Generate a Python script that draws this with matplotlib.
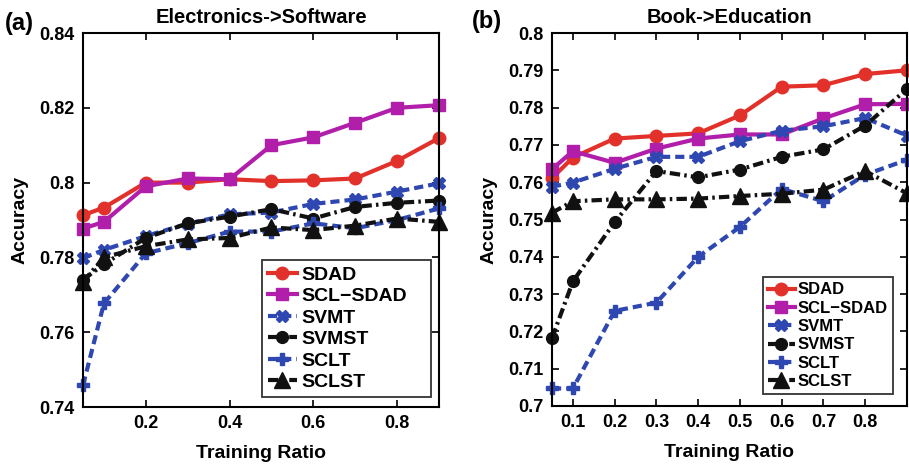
import matplotlib
matplotlib.use("Agg")
import matplotlib.pyplot as plt

plt.rcParams['font.family'] = ['Liberation Sans', 'DejaVu Sans']
plt.rcParams['font.weight'] = 'bold'

ratios = [0.05, 0.1, 0.2, 0.3, 0.4, 0.5, 0.6, 0.7, 0.8, 0.9]
series_names = ["SDAD", "SCL\u2212SDAD", "SVMT", "SVMST", "SCLT", "SCLST"]

# Panel (a) Electronics->Software
a_sdad   = [0.7913, 0.7933, 0.8000, 0.8000, 0.8009, 0.8004, 0.8006, 0.8011, 0.8058, 0.8119]
a_scl    = [0.7877, 0.7895, 0.7990, 0.8011, 0.8009, 0.8100, 0.8121, 0.8160, 0.8200, 0.8207]
a_svmt   = [0.7798, 0.7820, 0.7857, 0.7890, 0.7915, 0.7920, 0.7943, 0.7955, 0.7976, 0.7998]
a_svmst  = [0.7740, 0.7782, 0.7852, 0.7891, 0.7909, 0.7929, 0.7904, 0.7935, 0.7946, 0.7952]
a_sclt   = [0.7458, 0.7677, 0.7811, 0.7838, 0.7869, 0.7869, 0.7891, 0.7878, 0.7900, 0.7931]
a_sclst  = [0.7735, 0.7800, 0.7830, 0.7848, 0.7852, 0.7880, 0.7873, 0.7885, 0.7904, 0.7895]

# Panel (b) Book->Education
b_sdad   = [0.7611, 0.7666, 0.7717, 0.7724, 0.7731, 0.7779, 0.7856, 0.7860, 0.7890, 0.7900]
b_scl    = [0.7635, 0.7683, 0.7652, 0.7690, 0.7717, 0.7728, 0.7728, 0.7771, 0.7809, 0.7810]
b_svmt   = [0.7588, 0.7599, 0.7636, 0.7668, 0.7668, 0.7710, 0.7738, 0.7750, 0.7772, 0.7725]
b_svmst  = [0.7182, 0.7334, 0.7493, 0.7630, 0.7613, 0.7634, 0.7668, 0.7688, 0.7752, 0.7850]
b_sclt   = [0.7047, 0.7047, 0.7255, 0.7277, 0.7400, 0.7480, 0.7582, 0.7549, 0.7620, 0.7660]
b_sclst  = [0.7518, 0.7549, 0.7554, 0.7554, 0.7556, 0.7563, 0.7569, 0.7580, 0.7630, 0.7570]

a_yticks = [0.74, 0.76, 0.78, 0.80, 0.82, 0.84]
a_yticklabels = ["0.74", "0.76", "0.78", "0.8", "0.82", "0.84"]
a_xticks = [0.2, 0.4, 0.6, 0.8]
b_yticks = [0.70, 0.71, 0.72, 0.73, 0.74, 0.75, 0.76, 0.77, 0.78, 0.79, 0.80]
b_yticklabels = ["0.7", "0.71", "0.72", "0.73", "0.74", "0.75", "0.76", "0.77", "0.78", "0.79", "0.8"]
b_xticks = [0.1, 0.2, 0.3, 0.4, 0.5, 0.6, 0.7, 0.8]

RED = "#e2312a"
MAG = "#b01eaa"
BLUE = "#2f47b0"
BLACK = "#111111"

styles = [
    dict(color=RED, ls='-', lw=3, marker='o', ms=9, mfc=RED, mec=RED),
    dict(color=MAG, ls='-', lw=3, marker='s', ms=8.5, mfc=MAG, mec=MAG),
    dict(color=BLUE, ls=(0, (2.2, 1.2)), lw=3, marker='X', ms=8, mfc=BLUE, mec=BLUE),
    dict(color=BLACK, ls=(0, (2.5, 1.0, 0.6, 1.0)), lw=3, marker='o', ms=8.5, mfc=BLACK, mec=BLACK),
    dict(color=BLUE, ls=(0, (2.2, 1.2)), lw=3, marker='P', ms=8.5, mfc=BLUE, mec=BLUE),
    dict(color=BLACK, ls=(0, (2.5, 1.0, 0.6, 1.0)), lw=3, marker='^', ms=11, mfc=BLACK, mec=BLACK),
]

fig = plt.figure(figsize=(9.09, 4.67), dpi=100)
W, H = 909, 467
ax1 = fig.add_axes([83 / W, 1 - 407 / H, (439 - 83) / W, (407 - 33) / H])
ax2 = fig.add_axes([552 / W, 1 - 406 / H, (907 - 552) / W, (406 - 33) / H])

panels = [
    (ax1, [a_sdad, a_scl, a_svmt, a_svmst, a_sclt, a_sclst], "Electronics->Software",
     (0.74, 0.84), a_yticks, a_yticklabels, a_xticks, "(a)",
     [262 / W, 1 - 397 / H, (431 - 262) / W, (397 - 248) / H], 14, 1.5),
    (ax2, [b_sdad, b_scl, b_svmt, b_svmst, b_sclt, b_sclst], "Book->Education",
     (0.70, 0.80), b_yticks, b_yticklabels, b_xticks, "(b)",
     [763 / W, 1 - 394 / H, (893 - 763) / W, (394 - 270) / H], 12, 1.6),
]

for ax, data, title, ylim, yt, ytl, xt, tag, legbox, lfs, hl in panels:
    for vals, name, st in zip(data, series_names, styles):
        ax.plot(ratios, vals, label=name, clip_on=False, **st)
    ax.set_xlim(0.05, 0.9)
    ax.set_ylim(*ylim)
    ax.set_yticks(yt)
    ax.set_yticklabels(ytl)
    ax.set_xticks(xt)
    ax.set_xticklabels([f"{v:g}" for v in xt])
    ax.tick_params(direction='in', top=True, right=True, length=5, width=1.2,
                   labelsize=13, pad=6)
    for lab in ax.get_xticklabels() + ax.get_yticklabels():
        lab.set_fontweight('bold')
    for sp in ax.spines.values():
        sp.set_linewidth(1.5)
    ax.set_title(title, fontsize=14.5, fontweight='bold', pad=7)
    ax.set_xlabel("Training Ratio", fontsize=14, fontweight='bold', labelpad=9)
    ax.set_ylabel("Accuracy", fontsize=14, fontweight='bold', labelpad=8)
    leg = ax.legend(loc='lower right', bbox_to_anchor=(legbox[0], legbox[1], legbox[2], legbox[3]),
                    bbox_transform=fig.transFigure, mode='expand',
                    fontsize=lfs, frameon=True, fancybox=False,
                    handlelength=hl, handletextpad=0.2, borderpad=0.3,
                    labelspacing=0.2, borderaxespad=0)
    leg.get_frame().set_edgecolor('black')
    leg.get_frame().set_linewidth(1.3)
    for t in leg.get_texts():
        t.set_fontweight('bold')

fig.text(5 / W, 1 - 30 / H, "(a)", fontsize=17, fontweight='bold', ha='left', va='baseline')
fig.text(472 / W, 1 - 28 / H, "(b)", fontsize=17, fontweight='bold', ha='left', va='baseline')

fig.savefig("out.png", dpi=100)
